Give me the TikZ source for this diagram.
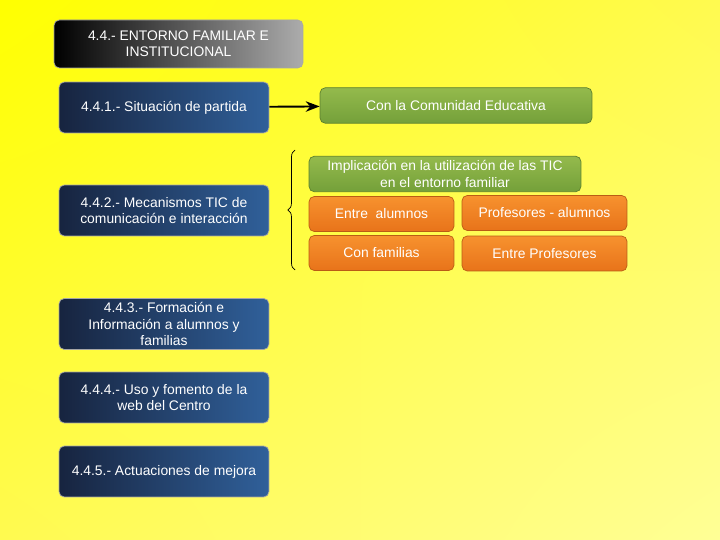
\documentclass[tikz,border=0pt]{standalone}
\usepackage{fontspec}
\setmainfont{Liberation Sans}
\usetikzlibrary{arrows.meta, decorations.pathreplacing, shadings}
\definecolor{navydark}{HTML}{17243F}
\definecolor{navylight}{HTML}{30609A}
\definecolor{grtop}{HTML}{94BA4C}
\definecolor{grbot}{HTML}{74A03A}
\definecolor{ortop}{HTML}{F7922E}
\definecolor{orbot}{HTML}{E8731A}
\definecolor{fondoA}{HTML}{FFFF00}
\definecolor{fondoB}{HTML}{FFFA50}
\definecolor{fondoC}{HTML}{FFFF96}
\begin{document}
\begin{tikzpicture}[
      x=0.02cm, y=-0.02cm,
      every node/.style={font=\fontsize{7.9}{9.3}\selectfont, text=white, align=center},
      secbox/.style={draw=gray!70, rounded corners=3pt, left color=navydark, right color=navylight, minimum width=4.2cm, minimum height=1.02cm, inner sep=1pt},
      titlebox/.style={draw=gray!70, rounded corners=3pt, left color=black, right color=gray!65, minimum width=4.98cm, minimum height=0.96cm, inner sep=1pt},
      greenbox/.style={draw=grbot!80!black, rounded corners=3pt, top color=grtop, bottom color=grbot, minimum width=5.44cm, minimum height=0.71cm, inner sep=1pt},
      orangebox/.style={draw=orbot!80!black, rounded corners=3pt, top color=ortop, bottom color=orbot, minimum height=0.7cm, inner sep=1pt},
      >=Stealth,
    ]
    % background
    \shade[upper left=fondoA, upper right=fondoB, lower left=fondoB, lower right=fondoC]
      (0,0) rectangle (720,540);
    \useasboundingbox (0,0) rectangle (720,540);

    \node[titlebox] (titulo) at (178.5,44) {4.4.- ENTORNO FAMILIAR E\\INSTITUCIONAL};
    \node[secbox] (sit) at (164,107.5) {4.4.1.- Situación de partida};
    \node[secbox] (meca) at (164,210.5) {4.4.2.- Mecanismos TIC de\\comunicación e interacción};
    \node[secbox] (form) at (164,324) {4.4.3.- Formación e\\Información a alumnos y\\familias};
    \node[secbox] (web) at (164,397.5) {4.4.4.- Uso y fomento de la\\web del Centro};
    \node[secbox] (mejora) at (164,471.5) {4.4.5.- Actuaciones de mejora};

    \node[greenbox] (comu) at (456,105.5) {Con la Comunidad Educativa};
    \node[greenbox] (impl) at (445,174) {Implicación en la utilización de las TIC\\en el entorno familiar};
    \node[orangebox, minimum width=2.9cm] (alum) at (381.5,214) {Entre\ \ alumnos};
    \node[orangebox, minimum width=3.3cm] (profal) at (544.5,213) {Profesores - alumnos};
    \node[orangebox, minimum width=2.9cm] (fam) at (381.5,253) {Con familias};
    \node[orangebox, minimum width=3.3cm] (prof) at (544.5,253.5) {Entre Profesores};

    \coordinate (llave-a) at (295,270);
    \coordinate (llave-b) at (295,150);
    \draw[decorate, decoration={brace, amplitude=4pt}] (llave-a) -- (llave-b);

    \draw[->, line width=1.1pt] (sit) -- (comu);
  \end{tikzpicture}
\end{document}
